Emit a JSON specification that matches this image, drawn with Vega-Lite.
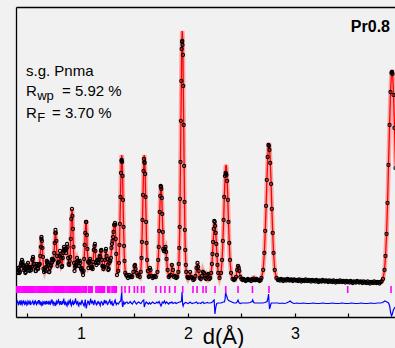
{
"$schema":"https://vega.github.io/schema/vega-lite/v6.json",
"width":379,"height":310,
"autosize":{"type":"none"},
"padding":{"left":16,"top":7,"right":0,"bottom":31},
"background":"#f1f1f1",
"config":{"view":{"stroke":null},"font":"Liberation Sans","axis":{"grid":false}},
"datasets":{
"prof":[
{"d":0.40,"o":48,"c":46},{"d":0.41,"o":44,"c":46},{"d":0.42,"o":47,"c":46},{"d":0.43,"o":45,"c":47},{"d":0.44,"o":54,"c":52},{"d":0.449,"o":57,"c":55},{"d":0.45,"o":53,"c":55},{"d":0.46,"o":52,"c":51},{"d":0.47,"o":49,"c":47},{"d":0.48,"o":44,"c":46},{"d":0.49,"o":50,"c":48},{"d":0.50,"o":49,"c":51},{"d":0.505,"o":54,"c":52},{"d":0.51,"o":50,"c":51},{"d":0.52,"o":46,"c":48},{"d":0.53,"o":49,"c":47},{"d":0.54,"o":50,"c":52},{"d":0.55,"o":58,"c":59},{"d":0.552,"o":60,"c":59},{"d":0.56,"o":53,"c":55},{"d":0.57,"o":50,"c":48.5},{"d":0.58,"o":46,"c":48},{"d":0.59,"o":53,"c":51},{"d":0.60,"o":48,"c":50},{"d":0.61,"o":52,"c":50},{"d":0.62,"o":61,"c":63},{"d":0.63,"o":78,"c":79},{"d":0.631,"o":80,"c":79},{"d":0.64,"o":69,"c":67},{"d":0.65,"o":48,"c":50},{"d":0.66,"o":47,"c":45},{"d":0.67,"o":46,"c":49},{"d":0.68,"o":56,"c":54.5},{"d":0.683,"o":54,"c":55},{"d":0.69,"o":55,"c":53},{"d":0.70,"o":45,"c":47},{"d":0.71,"o":49,"c":47},{"d":0.72,"o":51,"c":53},{"d":0.729,"o":58,"c":57},{"d":0.73,"o":55,"c":57},{"d":0.74,"o":57,"c":55},{"d":0.75,"o":64,"c":66},{"d":0.76,"o":84,"c":85},{"d":0.762,"o":87,"c":86},{"d":0.77,"o":76,"c":74.5},{"d":0.78,"o":51,"c":53},{"d":0.79,"o":55,"c":53},{"d":0.80,"o":61,"c":63},{"d":0.804,"o":66,"c":65},{"d":0.81,"o":63,"c":62},{"d":0.82,"o":50,"c":52},{"d":0.83,"o":59,"c":57},{"d":0.84,"o":67,"c":69},{"d":0.842,"o":70,"c":69},{"d":0.85,"o":68,"c":66},{"d":0.86,"o":64,"c":66},{"d":0.87,"o":73,"c":72},{"d":0.88,"o":59,"c":61},{"d":0.89,"o":52,"c":50.5},{"d":0.90,"o":60,"c":62},{"d":0.91,"o":98,"c":97},{"d":0.916,"o":108,"c":108},{"d":0.92,"o":101,"c":103},{"d":0.93,"o":70,"c":68},{"d":0.94,"o":46,"c":48},{"d":0.95,"o":52,"c":50.5},{"d":0.96,"o":55,"c":57},{"d":0.963,"o":59,"c":58},{"d":0.97,"o":56,"c":55},{"d":0.98,"o":51,"c":53},{"d":0.99,"o":56,"c":54},{"d":1.00,"o":48,"c":50},{"d":1.01,"o":47,"c":45},{"d":1.02,"o":42,"c":44},{"d":1.03,"o":58,"c":56},{"d":1.04,"o":84,"c":85},{"d":1.047,"o":95,"c":96},{"d":1.05,"o":95,"c":94},{"d":1.06,"o":68,"c":66},{"d":1.07,"o":49,"c":51},{"d":1.08,"o":56,"c":55},{"d":1.085,"o":58,"c":56},{"d":1.09,"o":53,"c":55},{"d":1.10,"o":49,"c":48},{"d":1.11,"o":48,"c":50},{"d":1.12,"o":67,"c":66},{"d":1.127,"o":71,"c":72},{"d":1.13,"o":73,"c":71},{"d":1.14,"o":54,"c":56},{"d":1.15,"o":56,"c":54},{"d":1.16,"o":55,"c":56},{"d":1.17,"o":58,"c":56},{"d":1.18,"o":60,"c":62},{"d":1.187,"o":66,"c":67},{"d":1.19,"o":67,"c":66},{"d":1.20,"o":51,"c":53},{"d":1.21,"o":48,"c":46},{"d":1.22,"o":50,"c":52},{"d":1.23,"o":66,"c":65},{"d":1.234,"o":68,"c":67},{"d":1.24,"o":61,"c":63},{"d":1.25,"o":52,"c":50},{"d":1.26,"o":48,"c":50},{"d":1.27,"o":56,"c":55},{"d":1.28,"o":59,"c":61},{"d":1.29,"o":73,"c":72},{"d":1.295,"o":76,"c":76},{"d":1.30,"o":80,"c":82},{"d":1.31,"o":92,"c":90},{"d":1.318,"o":94,"c":94},{"d":1.32,"o":92,"c":93},{"d":1.33,"o":63,"c":65},{"d":1.337,"o":42,"c":44},
{"d":0.405,"o":45,"c":46},{"d":0.415,"o":49,"c":46},{"d":0.425,"o":44,"c":46.5},{"d":0.435,"o":51,"c":49},{"d":0.445,"o":52,"c":54},{"d":0.455,"o":55,"c":53},{"d":0.465,"o":47,"c":49},{"d":0.475,"o":48,"c":46.5},{"d":0.485,"o":45,"c":47},{"d":0.495,"o":52,"c":49.5},{"d":0.515,"o":47,"c":49.5},{"d":0.525,"o":50,"c":47.5},{"d":0.535,"o":47,"c":49},{"d":0.545,"o":57,"c":56},{"d":0.565,"o":53,"c":51.5},{"d":0.575,"o":46,"c":48},{"d":0.585,"o":51,"c":49.5},{"d":0.595,"o":49,"c":51},{"d":0.605,"o":52,"c":50},{"d":0.615,"o":53,"c":55},{"d":0.625,"o":70,"c":72},{"d":0.635,"o":76,"c":75},{"d":0.645,"o":60,"c":58},{"d":0.655,"o":45,"c":47},{"d":0.665,"o":49,"c":46.5},{"d":0.675,"o":50,"c":52},{"d":0.695,"o":52,"c":50},{"d":0.705,"o":45,"c":47},{"d":0.715,"o":52,"c":49.5},{"d":0.725,"o":54,"c":56},{"d":0.735,"o":58,"c":56},{"d":0.745,"o":57,"c":59},{"d":0.755,"o":74,"c":76},{"d":0.765,"o":84,"c":82},{"d":0.775,"o":61,"c":63},{"d":0.785,"o":54,"c":52},{"d":0.795,"o":55,"c":57},{"d":0.815,"o":59,"c":57},{"d":0.825,"o":51,"c":53},{"d":0.835,"o":64,"c":62},{"d":0.845,"o":66,"c":68},{"d":0.855,"o":68,"c":65},{"d":0.865,"o":68,"c":70},{"d":0.875,"o":70,"c":68},{"d":0.885,"o":53,"c":55},{"d":0.895,"o":56,"c":54},{"d":0.905,"o":78,"c":80},{"d":0.925,"o":88,"c":86},{"d":0.935,"o":54,"c":56},{"d":0.945,"o":50,"c":48},{"d":0.955,"o":51,"c":53},{"d":0.975,"o":56,"c":54},{"d":0.985,"o":51,"c":53},{"d":0.995,"o":54,"c":52},{"d":1.005,"o":49,"c":47},{"d":1.015,"o":45,"c":44},{"d":1.025,"o":46,"c":48},{"d":1.035,"o":72,"c":70},{"d":1.055,"o":82,"c":80},{"d":1.065,"o":55,"c":57},{"d":1.075,"o":54,"c":52},{"d":1.095,"o":49,"c":51},{"d":1.105,"o":50,"c":48},{"d":1.115,"o":55,"c":57},{"d":1.135,"o":66,"c":64},{"d":1.145,"o":52,"c":54},{"d":1.155,"o":57,"c":55},{"d":1.165,"o":54,"c":56},{"d":1.175,"o":61,"c":59},{"d":1.195,"o":57,"c":59},{"d":1.205,"o":51,"c":49},{"d":1.215,"o":50,"c":48},{"d":1.225,"o":57,"c":59},{"d":1.245,"o":58,"c":56},{"d":1.255,"o":47,"c":49},{"d":1.265,"o":54,"c":52},{"d":1.275,"o":56,"c":58},{"d":1.285,"o":69,"c":67},{"d":1.305,"o":85,"c":87},{"d":1.325,"o":78,"c":80},
{"d":1.348,"o":46,"c":45},{"d":1.355,"o":54,"c":55},{"d":1.360,"o":72,"c":70},{"d":1.364,"o":93,"c":91},{"d":1.369,"o":120,"c":118},{"d":1.374,"o":144,"c":143},{"d":1.378,"o":156,"c":159},{"d":1.381,"o":157,"c":162},{"d":1.384,"o":155,"c":159},{"d":1.389,"o":141,"c":143},{"d":1.393,"o":117,"c":118},{"d":1.398,"o":90,"c":91},{"d":1.403,"o":71,"c":70},{"d":1.407,"o":56,"c":55},{"d":1.414,"o":44,"c":45},{"d":1.423,"o":42,"c":41.5},
{"d":1.43,"o":41,"c":40},{"d":1.44,"o":39,"c":40},{"d":1.45,"o":42,"c":41},{"d":1.46,"o":40,"c":41},{"d":1.47,"o":41,"c":40},{"d":1.48,"o":40,"c":41},{"d":1.49,"o":45,"c":44},{"d":1.50,"o":51,"c":50},{"d":1.505,"o":52,"c":52},{"d":1.51,"o":48,"c":49},{"d":1.52,"o":44,"c":43},{"d":1.53,"o":41,"c":42},{"d":1.54,"o":42,"c":41},{"d":1.55,"o":40,"c":40},
{"d":1.559,"o":45,"c":45.5},{"d":1.566,"o":59,"c":58},{"d":1.570,"o":75,"c":74},{"d":1.575,"o":97,"c":96},{"d":1.580,"o":122,"c":121},{"d":1.585,"o":146,"c":144.5},{"d":1.589,"o":158,"c":159},{"d":1.592,"o":155,"c":162},{"d":1.595,"o":154,"c":159},{"d":1.600,"o":143,"c":144.5},{"d":1.604,"o":120,"c":121},{"d":1.609,"o":95,"c":96},{"d":1.613,"o":74,"c":74},{"d":1.618,"o":57,"c":58},{"d":1.625,"o":46,"c":45.5},{"d":1.634,"o":40,"c":40},
{"d":1.64,"o":41,"c":42},{"d":1.645,"o":49,"c":48},{"d":1.65,"o":47,"c":46},{"d":1.66,"o":41,"c":41},{"d":1.67,"o":39,"c":40},{"d":1.68,"o":40,"c":40},{"d":1.69,"o":41,"c":40},{"d":1.70,"o":40,"c":40},
{"d":1.715,"o":45,"c":46},{"d":1.722,"o":57,"c":56},{"d":1.727,"o":70,"c":69},{"d":1.731,"o":86,"c":85.5},{"d":1.736,"o":105,"c":104},{"d":1.741,"o":121,"c":120},{"d":1.745,"o":131,"c":130},{"d":1.748,"o":130,"c":132},{"d":1.751,"o":128,"c":130},{"d":1.756,"o":119,"c":120},{"d":1.760,"o":103,"c":104},{"d":1.765,"o":85,"c":85.5},{"d":1.769,"o":68,"c":69},{"d":1.774,"o":66,"c":67},{"d":1.779,"o":66,"c":66},{"d":1.784,"o":68,"c":67.5},{"d":1.790,"o":70,"c":69},{"d":1.796,"o":65,"c":64},{"d":1.80,"o":58,"c":59},{"d":1.81,"o":47,"c":46},{"d":1.82,"o":40,"c":41},{"d":1.83,"o":41,"c":40},{"d":1.84,"o":42,"c":43},{"d":1.85,"o":52,"c":53},{"d":1.86,"o":47,"c":46},{"d":1.87,"o":40,"c":41},{"d":1.88,"o":41,"c":40},{"d":1.89,"o":39,"c":40},
{"d":1.900,"o":40,"c":40},{"d":1.910,"o":45,"c":44},{"d":1.914,"o":53,"c":52},{"d":1.919,"o":69,"c":67.6},{"d":1.923,"o":90,"c":88},{"d":1.926,"o":118,"c":116},{"d":1.930,"o":155,"c":152.6},{"d":1.934,"o":196,"c":193},{"d":1.938,"o":236,"c":233},{"d":1.941,"o":268,"c":265.5},{"d":1.945,"o":275,"c":283.5},{"d":1.947,"o":276,"c":286},{"d":1.949,"o":272,"c":283.5},{"d":1.953,"o":262,"c":265.5},{"d":1.956,"o":231,"c":233},{"d":1.960,"o":192,"c":193},{"d":1.964,"o":151,"c":152.6},{"d":1.968,"o":115,"c":116},{"d":1.971,"o":87,"c":88},{"d":1.975,"o":67,"c":67.6},{"d":1.980,"o":52,"c":52},{"d":1.984,"o":45,"c":44},{"d":1.994,"o":40,"c":39.6},
{"d":2.00,"o":39,"c":38},{"d":2.01,"o":39,"c":40},{"d":2.02,"o":45,"c":45},{"d":2.03,"o":40,"c":40},{"d":2.04,"o":39,"c":38},{"d":2.05,"o":37,"c":38},{"d":2.06,"o":38,"c":38},{"d":2.07,"o":41,"c":40},{"d":2.08,"o":49,"c":48},{"d":2.089,"o":54,"c":54},{"d":2.095,"o":50,"c":50},{"d":2.10,"o":46,"c":45},{"d":2.11,"o":39,"c":39},{"d":2.12,"o":38,"c":38},{"d":2.13,"o":41,"c":40},{"d":2.14,"o":45,"c":46},{"d":2.15,"o":44,"c":43},{"d":2.16,"o":39,"c":39},{"d":2.17,"o":38,"c":38},{"d":2.18,"o":42,"c":43},{"d":2.19,"o":43,"c":42},{"d":2.20,"o":38,"c":38},
{"d":2.208,"o":39,"c":38.7},{"d":2.217,"o":44,"c":44},{"d":2.224,"o":53,"c":52},{"d":2.229,"o":63,"c":62},{"d":2.235,"o":75,"c":74},{"d":2.241,"o":88,"c":86},{"d":2.246,"o":96,"c":93},{"d":2.250,"o":95,"c":95},{"d":2.254,"o":91,"c":93},{"d":2.259,"o":84,"c":86},{"d":2.265,"o":73,"c":74},{"d":2.271,"o":62,"c":62},{"d":2.276,"o":52,"c":52},{"d":2.283,"o":44,"c":44},
{"d":2.295,"o":39,"c":39},{"d":2.309,"o":44,"c":44},{"d":2.319,"o":57,"c":56.5},{"d":2.326,"o":76,"c":74},{"d":2.333,"o":97,"c":94.5},{"d":2.339,"o":120,"c":117},{"d":2.346,"o":141,"c":137.5},{"d":2.352,"o":144,"c":150},{"d":2.356,"o":143,"c":152},{"d":2.360,"o":142,"c":150},{"d":2.366,"o":136,"c":137.5},{"d":2.373,"o":117,"c":117},{"d":2.379,"o":95,"c":94.5},{"d":2.386,"o":74,"c":74},{"d":2.393,"o":57,"c":56.5},{"d":2.403,"o":44,"c":44},{"d":2.417,"o":38,"c":38},
{"d":2.43,"o":37,"c":37},{"d":2.44,"o":38,"c":37},{"d":2.45,"o":40,"c":40},{"d":2.46,"o":47,"c":48},{"d":2.468,"o":51,"c":52},{"d":2.475,"o":49,"c":49},{"d":2.48,"o":46,"c":45},{"d":2.49,"o":40,"c":40},{"d":2.50,"o":38,"c":38},{"d":2.51,"o":37,"c":37},{"d":2.52,"o":38,"c":37},{"d":2.53,"o":37,"c":37},{"d":2.54,"o":36,"c":37},{"d":2.55,"o":37,"c":37},{"d":2.56,"o":38,"c":37},{"d":2.57,"o":37,"c":37},{"d":2.58,"o":37,"c":37},{"d":2.59,"o":36,"c":37},{"d":2.60,"o":38,"c":37},{"d":2.61,"o":37,"c":38},{"d":2.617,"o":37,"c":41},{"d":2.625,"o":37,"c":37.5},{"d":2.63,"o":37,"c":37},{"d":2.64,"o":38,"c":37},{"d":2.65,"o":37,"c":37},{"d":2.66,"o":37,"c":37},{"d":2.67,"o":36,"c":37},{"d":2.68,"o":37,"c":37},
{"d":2.687,"o":39,"c":38.8},{"d":2.703,"o":47,"c":47.3},{"d":2.714,"o":64,"c":64},{"d":2.722,"o":86,"c":84.7},{"d":2.730,"o":111,"c":108.7},{"d":2.737,"o":137,"c":134.5},{"d":2.745,"o":160,"c":157},{"d":2.752,"o":172,"c":171},{"d":2.757,"o":171,"c":174},{"d":2.762,"o":167,"c":171},{"d":2.769,"o":154,"c":157},{"d":2.777,"o":133,"c":134.5},{"d":2.784,"o":108,"c":108.7},{"d":2.792,"o":84,"c":84.7},{"d":2.800,"o":64,"c":64},{"d":2.811,"o":47,"c":47.3},{"d":2.827,"o":39,"c":38.8},
{"d":2.84,"o":37,"c":37},{"d":2.85,"o":37.5,"c":37},{"d":2.86,"o":36.5,"c":37},{"d":2.87,"o":38,"c":37},{"d":2.88,"o":37,"c":37},{"d":2.89,"o":36,"c":37},{"d":2.90,"o":37.5,"c":37},{"d":2.91,"o":37,"c":37},{"d":2.92,"o":36.5,"c":37},{"d":2.93,"o":38,"c":37},{"d":2.94,"o":37,"c":37},{"d":2.95,"o":36.5,"c":37},{"d":2.96,"o":37.5,"c":37},{"d":2.97,"o":37,"c":37},{"d":2.98,"o":36,"c":37},{"d":2.99,"o":37.5,"c":37},{"d":3.00,"o":37,"c":37},
{"d":3.01,"o":36.5,"c":36.5},{"d":3.02,"o":37,"c":36.5},{"d":3.03,"o":36,"c":36.5},{"d":3.04,"o":37.5,"c":36.5},{"d":3.05,"o":36.5,"c":36.5},{"d":3.06,"o":35.5,"c":36.5},{"d":3.07,"o":37,"c":36.5},{"d":3.08,"o":36.5,"c":36.5},{"d":3.09,"o":36,"c":36.5},{"d":3.10,"o":37.5,"c":36.5},{"d":3.11,"o":36.5,"c":36.5},{"d":3.12,"o":36,"c":36.5},{"d":3.13,"o":37,"c":36.5},{"d":3.14,"o":36.5,"c":36.5},{"d":3.15,"o":35.5,"c":36.5},{"d":3.16,"o":37,"c":36.5},
{"d":3.17,"o":36,"c":36},{"d":3.18,"o":36.5,"c":36},{"d":3.19,"o":35.5,"c":36},{"d":3.20,"o":37,"c":36},{"d":3.21,"o":36,"c":36},{"d":3.22,"o":35,"c":36},{"d":3.23,"o":36.5,"c":36},{"d":3.24,"o":36,"c":36},{"d":3.25,"o":35.5,"c":36},{"d":3.26,"o":37,"c":36},{"d":3.27,"o":36,"c":36},{"d":3.28,"o":35.5,"c":36},{"d":3.29,"o":36.5,"c":36},{"d":3.30,"o":36,"c":36},{"d":3.31,"o":35,"c":36},{"d":3.32,"o":36.5,"c":36},
{"d":3.33,"o":35.5,"c":35.5},{"d":3.34,"o":36,"c":35.5},{"d":3.35,"o":35,"c":35.5},{"d":3.36,"o":36.5,"c":35.5},{"d":3.37,"o":35.5,"c":35.5},{"d":3.38,"o":34.5,"c":35.5},{"d":3.39,"o":36,"c":35.5},{"d":3.40,"o":35.5,"c":35.5},{"d":3.41,"o":35,"c":35.5},{"d":3.42,"o":36.5,"c":35.5},{"d":3.43,"o":35.5,"c":35.5},{"d":3.44,"o":35,"c":35.5},{"d":3.45,"o":36,"c":35.5},{"d":3.46,"o":35.5,"c":35.5},{"d":3.47,"o":34.5,"c":35.5},{"d":3.48,"o":36,"c":35.5},
{"d":3.49,"o":35,"c":35},{"d":3.50,"o":35.5,"c":35},{"d":3.51,"o":34.5,"c":35},{"d":3.52,"o":36,"c":35},{"d":3.53,"o":35,"c":35},{"d":3.54,"o":34,"c":35},{"d":3.55,"o":35.5,"c":35},{"d":3.56,"o":35,"c":35},{"d":3.57,"o":34.5,"c":35},{"d":3.58,"o":36,"c":35},{"d":3.59,"o":35,"c":35},{"d":3.60,"o":34.5,"c":35},{"d":3.61,"o":35.5,"c":35},{"d":3.62,"o":35,"c":35},{"d":3.63,"o":34,"c":35},{"d":3.64,"o":35.5,"c":35},
{"d":3.65,"o":34.5,"c":34.5},{"d":3.66,"o":35,"c":34.5},{"d":3.67,"o":34,"c":34.5},{"d":3.68,"o":35.5,"c":34.5},{"d":3.69,"o":34.5,"c":34.5},{"d":3.70,"o":33.5,"c":34.5},{"d":3.71,"o":35,"c":34.5},{"d":3.72,"o":34.5,"c":34.5},{"d":3.73,"o":34,"c":34.5},{"d":3.74,"o":35.5,"c":34.5},{"d":3.75,"o":34.5,"c":34.5},{"d":3.76,"o":34,"c":34.5},{"d":3.77,"o":35,"c":34.5},{"d":3.78,"o":34.5,"c":34.5},{"d":3.79,"o":33.5,"c":34.5},{"d":3.80,"o":35,"c":34.5},{"d":3.81,"o":35.5,"c":35},
{"d":3.823,"o":38,"c":38},{"d":3.837,"o":47,"c":47.3},{"d":3.846,"o":61,"c":60.6},{"d":3.856,"o":83,"c":82},{"d":3.865,"o":114,"c":112.6},{"d":3.874,"o":152,"c":150.5},{"d":3.884,"o":192,"c":190.6},{"d":3.893,"o":225,"c":224.6},{"d":3.902,"o":244,"c":244.4},{"d":3.907,"o":245,"c":247},{"d":3.912,"o":243,"c":244.4},{"d":3.921,"o":222,"c":224.6},{"d":3.930,"o":189,"c":190.6},{"d":3.940,"o":149,"c":150.5}
],
"diff":[
{"d":0.400,"f":14},{"d":0.405,"f":16},{"d":0.410,"f":15},{"d":0.415,"f":12.5},{"d":0.420,"f":13.5},{"d":0.425,"f":15.5},{"d":0.430,"f":14.5},{"d":0.435,"f":12},{"d":0.440,"f":17},{"d":0.445,"f":14},{"d":0.450,"f":12.5},{"d":0.455,"f":15},{"d":0.460,"f":14},{"d":0.465,"f":16},{"d":0.470,"f":15},{"d":0.475,"f":12.5},{"d":0.480,"f":13},{"d":0.485,"f":15.5},{"d":0.490,"f":14.5},{"d":0.495,"f":12},{"d":0.500,"f":13},{"d":0.505,"f":16},{"d":0.510,"f":15},{"d":0.515,"f":13},{"d":0.520,"f":14},{"d":0.525,"f":16.5},{"d":0.530,"f":12},{"d":0.535,"f":14},{"d":0.540,"f":14},{"d":0.545,"f":15},{"d":0.550,"f":16},{"d":0.555,"f":13},{"d":0.560,"f":12.5},{"d":0.565,"f":15},{"d":0.570,"f":14},{"d":0.575,"f":16},{"d":0.580,"f":15},{"d":0.585,"f":12.5},{"d":0.590,"f":13.5},{"d":0.595,"f":15},{"d":0.600,"f":14},{"d":0.605,"f":16.5},{"d":0.610,"f":16.5},{"d":0.615,"f":13},{"d":0.620,"f":12.5},{"d":0.625,"f":15},{"d":0.630,"f":14.5},{"d":0.635,"f":11.5},{"d":0.640,"f":12},{"d":0.645,"f":15.5},{"d":0.650,"f":15},{"d":0.655,"f":13},{"d":0.660,"f":14},{"d":0.665,"f":16},{"d":0.670,"f":12.5},{"d":0.675,"f":14},{"d":0.680,"f":16},{"d":0.685,"f":13.5},{"d":0.690,"f":14},{"d":0.695,"f":15},{"d":0.700,"f":12.5},{"d":0.705,"f":14.5},{"d":0.710,"f":15.5},{"d":0.715,"f":13},{"d":0.720,"f":14},{"d":0.725,"f":16},{"d":0.730,"f":17.5},{"d":0.735,"f":14},{"d":0.740,"f":12.5},{"d":0.745,"f":15},{"d":0.750,"f":14.5},{"d":0.755,"f":13},{"d":0.760,"f":11},{"d":0.765,"f":14},{"d":0.770,"f":15.5},{"d":0.775,"f":13},{"d":0.780,"f":14},{"d":0.785,"f":16},{"d":0.790,"f":17},{"d":0.795,"f":14},{"d":0.800,"f":13},{"d":0.805,"f":15.5},{"d":0.810,"f":15.5},{"d":0.815,"f":12.5},{"d":0.820,"f":12.5},{"d":0.825,"f":15},{"d":0.830,"f":14},{"d":0.835,"f":15.5},{"d":0.840,"f":18.5},{"d":0.845,"f":13},{"d":0.850,"f":12.5},{"d":0.855,"f":15},{"d":0.860,"f":14.5},{"d":0.865,"f":12},{"d":0.870,"f":11},{"d":0.875,"f":14},{"d":0.880,"f":15.5},{"d":0.885,"f":13},{"d":0.890,"f":14},{"d":0.895,"f":16},{"d":0.900,"f":17},{"d":0.905,"f":13},{"d":0.910,"f":11.5},{"d":0.915,"f":14},{"d":0.920,"f":15.5},{"d":0.925,"f":13},{"d":0.930,"f":12.5},{"d":0.935,"f":15},{"d":0.940,"f":14},{"d":0.945,"f":16},{"d":0.950,"f":18.5},{"d":0.955,"f":14},{"d":0.960,"f":13},{"d":0.965,"f":15},{"d":0.970,"f":15.5},{"d":0.975,"f":12},{"d":0.980,"f":11},{"d":0.985,"f":14},{"d":0.990,"f":14.5},{"d":0.995,"f":13},{"d":1.000,"f":12.5},{"d":1.005,"f":15},{"d":1.010,"f":17},{"d":1.015,"f":14},{"d":1.020,"f":14},{"d":1.025,"f":12},{"d":1.030,"f":11},{"d":1.035,"f":14},{"d":1.040,"f":17.5},{"d":1.045,"f":12},{"d":1.050,"f":8.5},{"d":1.055,"f":12},{"d":1.060,"f":14},{"d":1.065,"f":16},{"d":1.070,"f":15.5},{"d":1.075,"f":13},{"d":1.080,"f":12.5},{"d":1.085,"f":15},{"d":1.090,"f":18.5},{"d":1.095,"f":15},{"d":1.100,"f":14},{"d":1.105,"f":16},{"d":1.110,"f":16},{"d":1.115,"f":13},{"d":1.120,"f":12.5},{"d":1.125,"f":15},{"d":1.130,"f":17},{"d":1.135,"f":14},{"d":1.140,"f":14},{"d":1.145,"f":12},{"d":1.150,"f":12.5},{"d":1.155,"f":15},{"d":1.160,"f":15.5},{"d":1.165,"f":14},{"d":1.170,"f":14.5},{"d":1.175,"f":13},{"d":1.180,"f":11.5},{"d":1.185,"f":14},{"d":1.190,"f":15.5},{"d":1.195,"f":15},{"d":1.200,"f":14},{"d":1.205,"f":12},{"d":1.210,"f":12.5},{"d":1.215,"f":15},{"d":1.220,"f":17},{"d":1.225,"f":14},{"d":1.230,"f":14},{"d":1.235,"f":16},{"d":1.240,"f":15.5},{"d":1.245,"f":13},{"d":1.250,"f":12.5},{"d":1.255,"f":14},{"d":1.260,"f":14.5},{"d":1.265,"f":16},{"d":1.270,"f":17},{"d":1.275,"f":14},{"d":1.280,"f":13},{"d":1.285,"f":15},{"d":1.290,"f":15.5},{"d":1.295,"f":12},{"d":1.300,"f":11.5},{"d":1.305,"f":13},{"d":1.310,"f":14},{"d":1.315,"f":16},{"d":1.320,"f":17},{"d":1.325,"f":14},{"d":1.330,"f":12.5},{"d":1.335,"f":14},{"d":1.340,"f":14},{"d":1.350,"f":13},{"d":1.360,"f":15},
{"d":1.372,"f":16},{"d":1.381,"f":25},{"d":1.386,"f":13},{"d":1.39,"f":10},{"d":1.40,"f":15},{"d":1.41,"f":13},{"d":1.42,"f":14.5},{"d":1.43,"f":15},{"d":1.44,"f":13.5},{"d":1.45,"f":14},{"d":1.46,"f":15.5},{"d":1.47,"f":14},{"d":1.48,"f":13},{"d":1.49,"f":15},{"d":1.50,"f":16},{"d":1.51,"f":14},{"d":1.52,"f":13},{"d":1.53,"f":14.5},{"d":1.54,"f":15},{"d":1.55,"f":14},{"d":1.56,"f":13.5},{"d":1.57,"f":15},{"d":1.58,"f":16.5},{"d":1.587,"f":17},{"d":1.592,"f":10},{"d":1.597,"f":12},{"d":1.60,"f":13},{"d":1.61,"f":15},{"d":1.62,"f":14},{"d":1.63,"f":13},{"d":1.64,"f":14.5},{"d":1.65,"f":13},{"d":1.66,"f":14},{"d":1.67,"f":15},{"d":1.68,"f":14},{"d":1.69,"f":13.5},{"d":1.70,"f":14},{"d":1.71,"f":15},{"d":1.72,"f":14},{"d":1.73,"f":15.5},{"d":1.74,"f":13},{"d":1.748,"f":11},{"d":1.755,"f":13},{"d":1.76,"f":15},{"d":1.77,"f":14},{"d":1.78,"f":16},{"d":1.79,"f":13.5},{"d":1.80,"f":15},{"d":1.81,"f":14},{"d":1.82,"f":13},{"d":1.83,"f":14.5},{"d":1.84,"f":14},{"d":1.85,"f":15},{"d":1.86,"f":13.5},{"d":1.87,"f":14},{"d":1.88,"f":14.5},{"d":1.89,"f":13.5},{"d":1.90,"f":14},{"d":1.91,"f":14.5},{"d":1.92,"f":15},{"d":1.93,"f":15},{"d":1.94,"f":16},{"d":1.945,"f":25},{"d":1.950,"f":13},{"d":1.955,"f":11},{"d":1.96,"f":13},{"d":1.97,"f":14},{"d":1.98,"f":14.5},{"d":1.99,"f":14},{"d":2.00,"f":13.5},{"d":2.01,"f":14},{"d":2.02,"f":15},{"d":2.03,"f":14},{"d":2.04,"f":13.5},{"d":2.05,"f":14},{"d":2.06,"f":14},{"d":2.07,"f":14.5},{"d":2.08,"f":15},{"d":2.09,"f":13.5},{"d":2.10,"f":14},{"d":2.11,"f":14},{"d":2.12,"f":13.5},{"d":2.13,"f":14.5},{"d":2.14,"f":15},{"d":2.15,"f":13.5},{"d":2.16,"f":14},{"d":2.17,"f":14},{"d":2.18,"f":14.5},{"d":2.19,"f":14},{"d":2.20,"f":14},{"d":2.21,"f":14},{"d":2.22,"f":14.5},{"d":2.23,"f":15},{"d":2.24,"f":16.5},{"d":2.245,"f":17},{"d":2.252,"f":3},{"d":2.258,"f":8},{"d":2.265,"f":12},{"d":2.27,"f":13.5},{"d":2.28,"f":14},{"d":2.29,"f":14},{"d":2.30,"f":14},{"d":2.31,"f":14},{"d":2.32,"f":14.5},{"d":2.33,"f":15},{"d":2.34,"f":15},{"d":2.346,"f":17},{"d":2.352,"f":24.5},{"d":2.358,"f":22},{"d":2.365,"f":20},{"d":2.37,"f":18},{"d":2.38,"f":16.5},{"d":2.39,"f":16},{"d":2.40,"f":15.5},{"d":2.41,"f":15},{"d":2.42,"f":14.5},{"d":2.43,"f":14},{"d":2.44,"f":14},{"d":2.45,"f":14},{"d":2.46,"f":15},{"d":2.468,"f":17},{"d":2.475,"f":15},{"d":2.48,"f":14},{"d":2.49,"f":13.5},{"d":2.50,"f":14},{"d":2.52,"f":14},{"d":2.54,"f":14},{"d":2.56,"f":14},{"d":2.58,"f":14.5},{"d":2.60,"f":15.5},{"d":2.605,"f":17},{"d":2.612,"f":15},{"d":2.62,"f":14},{"d":2.64,"f":14},{"d":2.66,"f":14},{"d":2.68,"f":14},{"d":2.70,"f":14},{"d":2.72,"f":14.5},{"d":2.74,"f":15.5},{"d":2.75,"f":20},{"d":2.753,"f":23},{"d":2.758,"f":15},{"d":2.762,"f":8},{"d":2.768,"f":10},{"d":2.775,"f":13},{"d":2.78,"f":14},{"d":2.80,"f":14},{"d":2.82,"f":14},{"d":2.84,"f":14},{"d":2.86,"f":13.5},{"d":2.88,"f":14},{"d":2.90,"f":13.5},{"d":2.92,"f":14},{"d":2.94,"f":15},{"d":2.955,"f":16},{"d":2.97,"f":14.5},{"d":2.99,"f":13.5},{"d":3.02,"f":14},{"d":3.05,"f":13.5},{"d":3.08,"f":14},{"d":3.11,"f":13.5},{"d":3.14,"f":13.5},{"d":3.17,"f":14},{"d":3.20,"f":13.5},{"d":3.23,"f":13.5},{"d":3.26,"f":14},{"d":3.29,"f":13.5},{"d":3.32,"f":13.5},{"d":3.35,"f":14},{"d":3.38,"f":13.5},{"d":3.41,"f":13.5},{"d":3.44,"f":14},{"d":3.47,"f":13.5},{"d":3.50,"f":13.5},{"d":3.53,"f":14},{"d":3.56,"f":13.5},{"d":3.59,"f":13.5},{"d":3.62,"f":14},{"d":3.65,"f":13.5},{"d":3.68,"f":13.5},{"d":3.71,"f":14},{"d":3.74,"f":13.5},{"d":3.77,"f":14},{"d":3.80,"f":14},{"d":3.82,"f":14.5},{"d":3.84,"f":16},{"d":3.86,"f":15},{"d":3.875,"f":14},{"d":3.885,"f":11},{"d":3.895,"f":4},{"d":3.903,"f":1},{"d":3.91,"f":3},{"d":3.92,"f":7},{"d":3.935,"f":10}
],
"bragg":[
{"d":0.40},{"d":0.41},{"d":0.42},{"d":0.43},{"d":0.44},{"d":0.45},{"d":0.46},{"d":0.47},{"d":0.48},{"d":0.49},{"d":0.50},{"d":0.51},{"d":0.52},{"d":0.53},{"d":0.54},{"d":0.55},{"d":0.56},{"d":0.57},{"d":0.58},{"d":0.59},{"d":0.60},{"d":0.61},{"d":0.62},{"d":0.63},{"d":0.64},{"d":0.65},{"d":0.66},{"d":0.67},{"d":0.68},{"d":0.69},{"d":0.70},{"d":0.71},{"d":0.72},{"d":0.73},{"d":0.74},{"d":0.75},{"d":0.76},{"d":0.77},{"d":0.78},{"d":0.79},{"d":0.80},{"d":0.81},{"d":0.82},{"d":0.83},{"d":0.84},{"d":0.85},{"d":0.86},{"d":0.87},{"d":0.88},{"d":0.89},{"d":0.90},{"d":0.91},{"d":0.92},{"d":0.93},{"d":0.94},{"d":0.95},{"d":0.96},{"d":0.97},{"d":0.98},{"d":0.99},{"d":1.00},{"d":1.01},{"d":1.02},{"d":1.03},{"d":1.04},{"d":1.05},
{"d":1.07},{"d":1.08},{"d":1.09},{"d":1.10},{"d":1.105},{"d":1.14},{"d":1.15},{"d":1.16},{"d":1.17},{"d":1.18},{"d":1.19},{"d":1.20},{"d":1.21},{"d":1.22},{"d":1.25},{"d":1.26},{"d":1.27},{"d":1.29},{"d":1.30},{"d":1.31},{"d":1.32},{"d":1.33},
{"d":1.381},{"d":1.412},{"d":1.452},{"d":1.499},{"d":1.529},{"d":1.566},{"d":1.589},{"d":1.701},{"d":1.745},{"d":1.785},{"d":1.828},{"d":1.879},{"d":1.951},{"d":2.047},{"d":2.085},{"d":2.141},{"d":2.169},{"d":2.253},{"d":2.353},{"d":2.468},{"d":2.603},{"d":2.757},{"d":3.493},{"d":3.898}
]
},
"resolve":{"axis":{"x":"independent","y":"independent"}},
"layer":[
{"data":{"name":"diff"},
 "mark":{"type":"line","color":"#0000ff","strokeWidth":1.2,"clip":true},
 "encoding":{
  "x":{"field":"d","type":"quantitative","scale":{"domain":[0.393,3.935],"nice":false,"zero":false},
   "axis":{"orient":"bottom","values":[0.5,1,1.5,2,2.5,3,3.5],"labelExpr":"datum.value % 1 == 0 ? format(datum.value, 'd') : ''","tickSize":-4,"tickWidth":1.2,"tickColor":"#000","labelPadding":12,"labelFontSize":16,"labelColor":"#000","labelFont":"Liberation Sans","domainColor":"#000","domainWidth":1.3,"title":"d(Å)","titleFontSize":22,"titleFontWeight":"normal","titleColor":"#000","titleFont":"Liberation Sans","titleX":207,"titleY":26,"titleBaseline":"alphabetic","titleAlign":"center","grid":false}},
  "y":{"field":"f","type":"quantitative","scale":{"domain":[0,310],"nice":false,"zero":false},
   "axis":{"orient":"left","ticks":false,"labels":false,"title":null,"domainColor":"#000","domainWidth":1.3,"grid":false}}
 }},
{"data":{"name":"bragg"},
 "mark":{"type":"rule","color":"#ff00ff","strokeWidth":1.6},
 "encoding":{
  "x":{"field":"d","type":"quantitative","axis":{"orient":"top","ticks":false,"labels":false,"title":null,"domainColor":"#000","domainWidth":1.3,"grid":false}},
  "y":{"datum":31,"type":"quantitative","axis":null},
  "y2":{"datum":24}
 }},
{"data":{"name":"prof"},
 "mark":{"type":"line","color":"#ff0000","strokeWidth":4.5,"opacity":0.3,"clip":true},
 "encoding":{"x":{"field":"d","type":"quantitative","axis":null},"y":{"field":"c","type":"quantitative","axis":null}}},
{"data":{"name":"prof"},
 "mark":{"type":"line","color":"#ff0000","strokeWidth":1.3,"clip":true},
 "encoding":{"x":{"field":"d","type":"quantitative","axis":null},"y":{"field":"c","type":"quantitative","axis":null}}},
{"data":{"name":"prof"},
 "mark":{"type":"point","shape":"circle","filled":false,"color":"#000000","size":10,"strokeWidth":1.1,"opacity":1,"clip":true},
 "encoding":{"x":{"field":"d","type":"quantitative","axis":null},"y":{"field":"o","type":"quantitative","axis":null}}},
{"data":{"values":[{}]},
 "mark":{"type":"text","text":"s.g. Pnma","fontSize":15,"align":"left","baseline":"alphabetic","font":"Liberation Sans","color":"#000"},
 "encoding":{"x":{"datum":0.4865,"type":"quantitative","axis":null},"y":{"datum":241,"type":"quantitative","axis":null}}},
{"data":{"values":[{}]},
 "mark":{"type":"text","text":"R","fontSize":15,"align":"left","baseline":"alphabetic","font":"Liberation Sans","color":"#000"},
 "encoding":{"x":{"datum":0.4865,"type":"quantitative","axis":null},"y":{"datum":221,"type":"quantitative","axis":null}}},
{"data":{"values":[{}]},
 "mark":{"type":"text","text":"wp","fontSize":13,"align":"left","baseline":"alphabetic","font":"Liberation Sans","color":"#000"},
 "encoding":{"x":{"datum":0.591,"type":"quantitative","axis":null},"y":{"datum":217,"type":"quantitative","axis":null}}},
{"data":{"values":[{}]},
 "mark":{"type":"text","text":"= 5.92 %","fontSize":15,"align":"left","baseline":"alphabetic","font":"Liberation Sans","color":"#000"},
 "encoding":{"x":{"datum":0.823,"type":"quantitative","axis":null},"y":{"datum":221,"type":"quantitative","axis":null}}},
{"data":{"values":[{}]},
 "mark":{"type":"text","text":"R","fontSize":15,"align":"left","baseline":"alphabetic","font":"Liberation Sans","color":"#000"},
 "encoding":{"x":{"datum":0.4865,"type":"quantitative","axis":null},"y":{"datum":199,"type":"quantitative","axis":null}}},
{"data":{"values":[{}]},
 "mark":{"type":"text","text":"F","fontSize":13,"align":"left","baseline":"alphabetic","font":"Liberation Sans","color":"#000"},
 "encoding":{"x":{"datum":0.591,"type":"quantitative","axis":null},"y":{"datum":195,"type":"quantitative","axis":null}}},
{"data":{"values":[{}]},
 "mark":{"type":"text","text":"= 3.70 %","fontSize":15,"align":"left","baseline":"alphabetic","font":"Liberation Sans","color":"#000"},
 "encoding":{"x":{"datum":0.729,"type":"quantitative","axis":null},"y":{"datum":199,"type":"quantitative","axis":null}}},
{"data":{"values":[{}]},
 "mark":{"type":"text","text":"Pr0.8","fontSize":16,"fontWeight":"bold","align":"right","baseline":"alphabetic","font":"Liberation Sans","color":"#000"},
 "encoding":{"x":{"datum":3.888,"type":"quantitative","axis":null},"y":{"datum":285.3,"type":"quantitative","axis":null}}}
]
}
